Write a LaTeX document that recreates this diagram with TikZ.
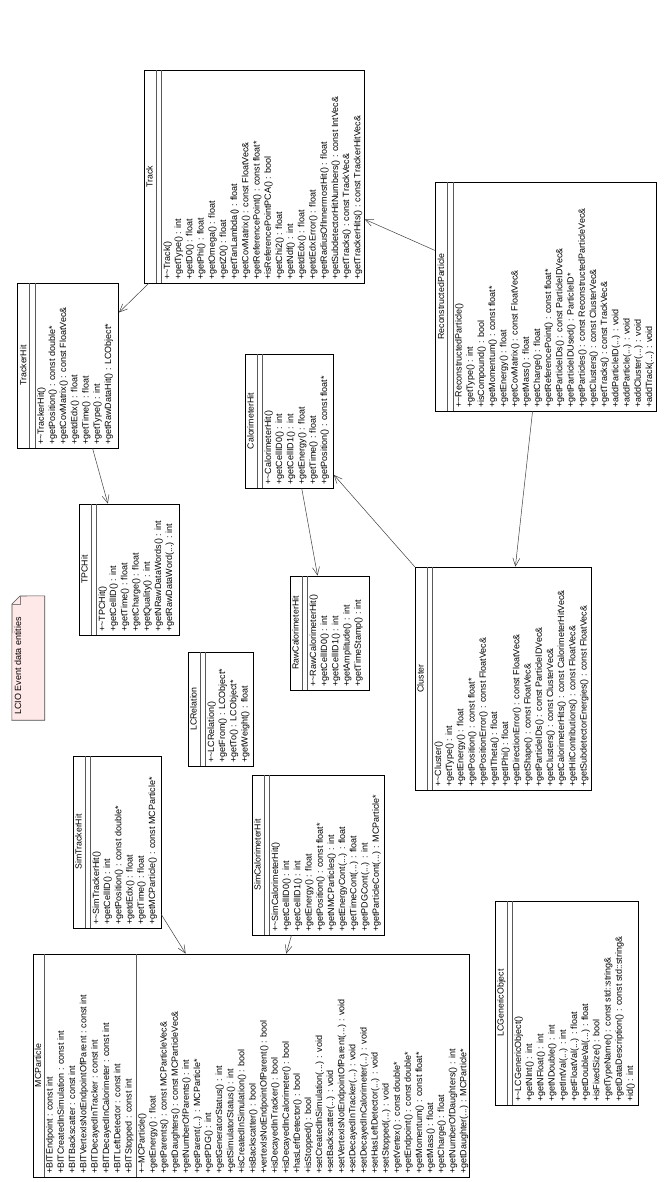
\documentclass[tikz,border=0pt]{standalone}
\usepackage{fontspec}
\setmainfont{Liberation Sans}
\usetikzlibrary{fit,calc,arrows.meta}
\newcommand\tl{\textasciitilde}
\newcommand\el{...}
\tikzset{
  cls/.style={draw=black, line width=0.7pt, inner sep=0pt},
  sepl/.style={draw=black!65, line width=0.7pt},
  ttl/.style={font=\fontsize{8.8}{10}\selectfont, inner sep=0pt, anchor=base},
  meth/.style={font=\fontsize{9}{10}\selectfont, inner sep=0pt},
  assoc/.style={draw=black!75, line width=0.5pt, -{Straight Barb[length=8pt,width=7pt]}},
}
\def\fo{26}\def\sp{11.2}
% #1 name #2 x1 #3 y1 #4 x2 #5 y2 #6 title #7 lines
\newcommand\umlclass[7]{%
  \node[cls, fit={(#2,#3) (#4,#5)}] (#1) {};
  \node[ttl, rotate=90] (#1-title) at ({#2+8.5}, {(#3+#5)/2}) {#6};
  \draw[sepl] ({#2+12},#3) -- ({#2+12},#5);
  \draw[sepl] ({#2+17.5},#3) -- ({#2+17.5},#5);
  \foreach \t [count=\i] in {#7}
    \node[meth, rotate=90, anchor=base west] (#1-\i) at ({#2+\fo+(\i-1)*\sp}, {#5-3}) {\t};
}
\begin{document}
\begin{tikzpicture}[x=1pt, y=-1pt]
\path[use as bounding box, fill=white] (0,0) rectangle (664,1182);

% note
\node[inner sep=0pt, fit={(12,596) (44.5,720)}] (note) {};
\draw[draw=black!70, fill=red!9, line width=0.6pt] (12,604) -- (20,596) -- (note.north east) -- (note.south east) -- (note.south west) -- cycle;
\draw[draw=black!50, line width=0.5pt] (12,604) -- (20,604) -- (20,596);
\node[meth, rotate=90, anchor=base west] (note-text) at (21,715) {LCIO Event data entities};

\umlclass{track}{144}{70.4}{364.4}{283}{Track}{%
{+\tl Track()},{+getType() : int},{+getD0() : float},{+getPhi() : float},{+getOmega() : float},{+getZ0() : float},{+getTanLambda() : float},{+getCovMatrix() : const FloatVec\&},{+getReferencePoint() : const float*},{+isReferencePointPCA() : bool},{+getChi2() : float},{+getNdf() : int},{+getdEdx() : float},{+getdEdxError() : float},{+getRadiusOfInnermostHit() : float},{+getSubdetectorHitNumbers() : const IntVec\&},{+getTracks() : const TrackVec\&},{+getTrackerHits() : const TrackerHitVec\&}}

\umlclass{trackerhit}{17.8}{283}{118.6}{448}{TrackerHit}{%
{+\tl TrackerHit()},{+getPosition() : const double*},{+getCovMatrix() : const FloatVec\&},{+getdEdx() : float},{+getTime() : float},{+getType() : int},{+getRawDataHit() : LCObject*}}

\umlclass{tpchit}{79}{504}{179}{635}{TPCHit}{%
{+\tl TPCHit()},{+getCellID() : int},{+getTime() : float},{+getCharge() : float},{+getQuality() : int},{+getNRawDataWords() : int},{+getRawDataWord(\el) : int}}

\umlclass{calohit}{245}{354}{333.5}{488}{CalorimeterHit}{%
{+\tl CalorimeterHit()},{+getCellID0() : int},{+getCellID1() : int},{+getEnergy() : float},{+getTime() : float},{+getPosition() : const float*}}

\umlclass{rawcalohit}{290}{576}{369}{690}{RawCalorimeterHit}{%
{+\tl RawCalorimeterHit()},{+getCellID0() : int},{+getCellID1() : int},{+getAmplitude() : int},{+getTimeStamp() : int}}

\umlclass{recopart}{435.6}{182}{656}{411}{ReconstructedParticle}{%
{+\tl ReconstructedParticle()},{+getType() : int},{+isCompound() : bool},{+getMomentum() : const float*},{+getEnergy() : float},{+getCovMatrix() : const FloatVec\&},{+getMass() : float},{+getCharge() : float},{+getReferencePoint() : const float*},{+getParticleIDs() : const ParticleIDVec\&},{+getParticleIDUsed() : ParticleID*},{+getParticles() : const ReconstructedParticleVec\&},{+getClusters() : const ClusterVec\&},{+getTracks() : const TrackVec\&},{+addParticleID(\el) : void},{+addParticle(\el) : void},{+addCluster(\el) : void},{+addTrack(\el) : void}}

\umlclass{cluster}{415}{567}{591}{790}{Cluster}{%
{+\tl Cluster()},{+getType() : int},{+getEnergy() : float},{+getPosition() : const float*},{+getPositionError() : const FloatVec\&},{+getITheta() : float},{+getIPhi() : float},{+getDirectionError() : const FloatVec\&},{+getShape() : const FloatVec\&},{+getParticleIDs() : const ParticleIDVec\&},{+getClusters() : const ClusterVec\&},{+getCalorimeterHits() : const CalorimeterHitVec\&},{+getHitContributions() : const FloatVec\&},{+getSubdetectorEnergies() : const FloatVec\&}}

\umlclass{simtrk}{73}{756}{161}{928}{SimTrackerHit}{%
{+\tl SimTrackerHit()},{+getCellID() : int},{+getPosition() : const double*},{+getdEdx() : float},{+getTime() : float},{+getMCParticle() : const MCParticle*}}

\umlclass{simcalo}{252}{775}{384}{935}{SimCalorimeterHit}{%
{+\tl SimCalorimeterHit()},{+getCellID0() : int},{+getCellID1() : int},{+getEnergy() : float},{+getPosition() : const float*},{+getNMCParticles() : int},{+getEnergyCont(\el) : float},{+getTimeCont(\el) : float},{+getPDGCont(\el) : int},{+getParticleCont(\el) : MCParticle*}}

\umlclass{lcrel}{188}{652}{253}{766}{LCRelation}{%
{+\tl LCRelation()},{+getFrom() : LCObject*},{+getTo() : LCObject*},{+getWeight() : float}}

\umlclass{lcgen}{495}{901}{638}{1105}{LCGenericObject}{%
{+\tl LCGenericObject()},{+getNInt() : int},{+getNFloat() : int},{+getNDouble() : int},{+getIntVal(\el) : int},{+getFloatVal(\el) : float},{+getDoubleVal(\el) : float},{+isFixedSize() : bool},{+getTypeName() : const std::string\&},{+getDataDescription() : const std::string\&},{+id() : int}}

% MCParticle
\node[cls, fit={(33,954) (469.5,1177)}] (mcp) {};
\node[ttl, rotate=90] (mcp-title) at (41,1065.5) {MCParticle};
\draw[sepl] (44.5,954) -- (44.5,1177);
\draw[sepl] (136.4,954) -- (136.4,1177);
\foreach \t [count=\i] in {{+BITEndpoint : const int},{+BITCreatedInSimulation : const int},{+BITBackscatter : const int},{+BITVertexIsNotEndpointOfParent : const int},{+BITDecayedInTracker : const int},{+BITDecayedInCalorimeter : const int},{+BITLeftDetector : const int},{+BITStopped : const int}}
  \node[meth, rotate=90, anchor=base west] (mcp-a\i) at ({52.5+(\i-1)*11.3}, 1174) {\t};
\foreach \t [count=\i] in {{+\tl MCParticle()},{+getEnergy() : float},{+getParents() : const MCParticleVec\&},{+getDaughters() : const MCParticleVec\&},{+getNumberOfParents() : int},{+getParent(\el) : MCParticle*},{+getPDG() : int},{+getGeneratorStatus() : int},{+getSimulatorStatus() : int},{+isCreatedInSimulation() : bool},{+isBackscatter() : bool},{+vertexIsNotEndpointOfParent() : bool},{+isDecayedInTracker() : bool},{+isDecayedInCalorimeter() : bool},{+hasLeftDetector() : bool},{+isStopped() : bool},{+setCreatedInSimulation(\el) : void},{+setBackscatter(\el) : void},{+setVertexIsNotEndpointOfParent(\el) : void},{+setDecayedInTracker(\el) : void},{+setDecayedInCalorimeter(\el) : void},{+setHasLeftDetector(\el) : void},{+setStopped(\el) : void},{+getVertex() : const double*},{+getEndpoint() : const double*},{+getMomentum() : const float*},{+getMass() : float},{+getCharge() : float},{+getNumberOfDaughters() : int},{+getDaughter(\el) : MCParticle*}}
  \node[meth, rotate=90, anchor=base west] (mcp-m\i) at ({144.5+(\i-1)*11.1}, 1174) {\t};

% connectors
\draw[assoc] ($(simtrk.north east)!0.92!(simtrk.south east)$) -- ($(mcp.north west)!0.35!(mcp.north east)$);
\draw[assoc] ($(simcalo.south west)!0.30!(simcalo.south east)$) -- ($(mcp.north west)!0.58!(mcp.north east)$);
\draw[assoc] ($(trackerhit.south west)!0.74!(trackerhit.south east)$) -- ($(tpchit.north west)!0.29!(tpchit.north east)$);
\draw[assoc] ($(track.south west)!0.023!(track.south east)$) -- ($(trackerhit.north east)!0.18!(trackerhit.south east)$);
\draw[assoc] ($(recopart.north west)!0.30!(recopart.south west)$) -- ($(track.north east)!0.70!(track.south east)$);
\draw[assoc] ($(recopart.south west)!0.44!(recopart.south east)$) -- ($(cluster.north west)!0.57!(cluster.north east)$);
\draw[assoc] (cluster.north west) -- ($(calohit.north east)!0.90!(calohit.south east)$);
\draw[assoc] ($(calohit.south west)!0.64!(calohit.south east)$) -- ($(rawcalohit.north west)!0.35!(rawcalohit.north east)$);
\end{tikzpicture}
\end{document}
